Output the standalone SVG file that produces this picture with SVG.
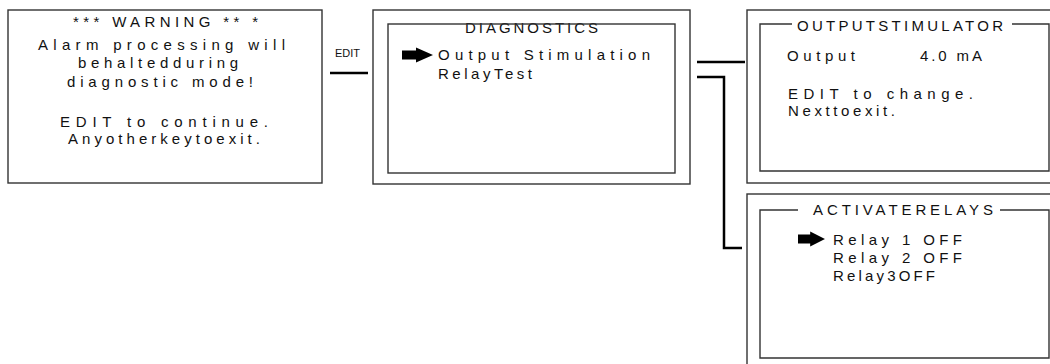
<svg xmlns="http://www.w3.org/2000/svg" width="1050" height="364" viewBox="0 0 1050 364">
<defs>
<style>
.box{fill:none;stroke:#333;stroke-width:1.4}
.frame{fill:none;stroke:#333;stroke-width:1.4}
.t{font-family:"Liberation Sans",Arial,sans-serif;font-size:15px;fill:#111}
.lbl{font-family:"Liberation Sans",Arial,sans-serif;font-size:11.5px;fill:#111}
.conn{fill:none;stroke:#000;stroke-width:2.5}
.arr{fill:#000}
</style>
<path id="ptr" d="M0,-4.5 L14,-4.5 L14,-7.5 L31,0 L14,7.5 L14,4.5 L0,4.5 Z"/>
</defs>
<rect width="1050" height="364" fill="#fff"/>

<g id="warning">
<rect class="box" x="8" y="10" width="314" height="173"/>
<text class="t" x="73" y="27" textLength="185" lengthAdjust="spacing">*** WARNING ** *</text>
<text class="t" x="38" y="50" textLength="247" lengthAdjust="spacing">Alarm processing will</text>
<text class="t" x="78" y="68" textLength="160" lengthAdjust="spacing">behaltedduring</text>
<text class="t" x="67" y="87" textLength="186" lengthAdjust="spacing">diagnostic mode!</text>
<text class="t" x="60" y="127" textLength="208" lengthAdjust="spacing">EDIT to continue.</text>
<text class="t" x="68" y="144" textLength="192" lengthAdjust="spacing">Anyotherkeytoexit.</text>
</g>

<g id="diagnostics">
<text class="t" x="465" y="33" textLength="133" lengthAdjust="spacing">DIAGNOSTICS</text>
<rect class="box" x="373" y="10" width="317" height="174"/>
<rect class="frame" x="388" y="24" width="287" height="149"/>
<use href="#ptr" class="arr" transform="translate(402,55)"/>
<text class="t" x="438" y="60" textLength="212" lengthAdjust="spacing">Output Stimulation</text>
<text class="t" x="438" y="79" textLength="94" lengthAdjust="spacing">RelayTest</text>
</g>

<g id="output-stimulator">
<rect class="box" x="747" y="10" width="320" height="173"/>
<path class="frame" d="M792,24 L760,24 L760,171 L1049,171 L1049,24 L1012,24"/>
<text class="t" x="797" y="31" textLength="206" lengthAdjust="spacing">OUTPUTSTIMULATOR</text>
<text class="t" x="787" y="61" textLength="68" lengthAdjust="spacing">Output</text>
<text class="t" x="920" y="61" textLength="62" lengthAdjust="spacing">4.0 mA</text>
<text class="t" x="788" y="99" textLength="185" lengthAdjust="spacing">EDIT to change.</text>
<text class="t" x="788" y="116" textLength="107" lengthAdjust="spacing">Nexttoexit.</text>
</g>

<g id="activate-relays">
<rect class="box" x="747" y="194" width="320" height="190"/>
<path class="frame" d="M798,210 L760,210 L760,358 L1049,358 L1049,210 L1000,210"/>
<text class="t" x="813" y="215" textLength="180" lengthAdjust="spacing">ACTIVATERELAYS</text>
<use href="#ptr" class="arr" transform="translate(798,239) scale(0.87,1)"/>
<text class="t" x="833" y="245" textLength="129" lengthAdjust="spacing">Relay 1 OFF</text>
<text class="t" x="833" y="263" textLength="129" lengthAdjust="spacing">Relay 2 OFF</text>
<text class="t" x="833" y="281" textLength="102" lengthAdjust="spacing">Relay3OFF</text>
</g>

<g id="connectors">
<text class="lbl" x="335" y="57" textLength="25" lengthAdjust="spacingAndGlyphs">EDIT</text>
<path class="conn" d="M330,73 L368,73"/>
<path class="conn" d="M697,62 L745,62"/>
<path class="conn" d="M697,77 L724,77 L724,248 L742,248"/>
</g>
</svg>
